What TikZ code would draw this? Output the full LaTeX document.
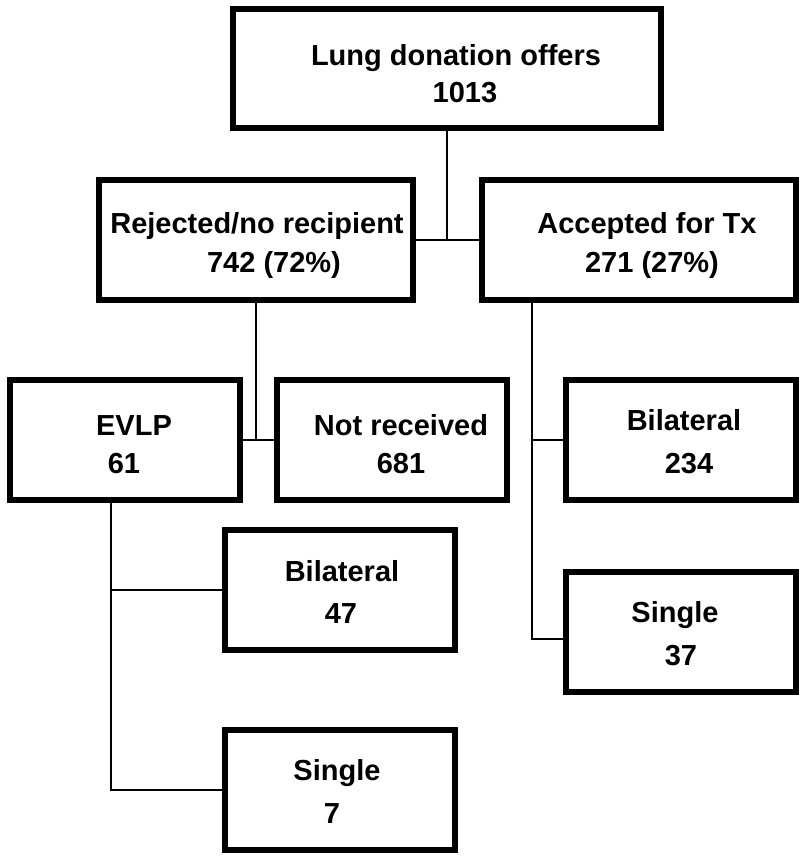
\documentclass[tikz,border=0pt]{standalone}
\usepackage{fontspec}
\setmainfont{Liberation Sans}
\tikzset{
    box/.style={draw=black, line width=3pt, inner sep=0pt, minimum height=60pt},
    topbox/.style={box, minimum width=214pt, minimum height=59.5pt},
    widebox/.style={box, minimum width=157pt},
    smallbox/.style={box, minimum width=115pt},
    txt/.style={anchor=base, inner sep=0pt, font=\bfseries\fontsize{14.5}{17}\selectfont},
    link/.style={draw=black, line width=1pt}
}
\begin{document}
\begin{tikzpicture}
  [
    x = 0.5pt,
    y = -0.5pt,
  ]
  \useasboundingbox (0,0) rectangle (800,858);
  % boxes
  \node [topbox]   (offers) at (447,68.5)  {};
  \node [widebox]  (rej)    at (255.5,240) {};
  \node [widebox]  (acc)    at (638.5,240) {};
  \node [smallbox] (evlp)   at (124.5,439.5) {};
  \node [smallbox] (notrec) at (392,439.5) {};
  \node [smallbox] (bil2)   at (680.5,439.5) {};
  \node [smallbox] (bil1)   at (340,590) {};
  \node [smallbox] (sgl2)   at (680.5,632) {};
  \node [smallbox] (sgl1)   at (340,790) {};
  % texts
  \node [txt] (offers1) at (456,65)  {Lung donation offers};
  \node [txt] (offers2) at (465,102) {1013};
  \node [txt] (rej1)    at (257,233) {Rejected/no recipient};
  \node [txt] (rej2)    at (274,272) {742 (72\%)};
  \node [txt] (acc1)    at (647,233) {Accepted for Tx};
  \node [txt] (acc2)    at (652,272) {271 (27\%)};
  \node [txt] (evlp1)   at (134,435) {EVLP};
  \node [txt] (evlp2)   at (124,473) {61};
  \node [txt] (notrec1) at (401,435) {Not received};
  \node [txt] (notrec2) at (401,473) {681};
  \node [txt] (bil21)   at (684,430) {Bilateral};
  \node [txt] (bil22)   at (689,473) {234};
  \node [txt] (bil11)   at (342,581) {Bilateral};
  \node [txt] (bil12)   at (341,623) {47};
  \node [txt] (sgl21)   at (675,622) {Single};
  \node [txt] (sgl22)   at (681,665) {37};
  \node [txt] (sgl11)   at (337,780) {Single};
  \node [txt] (sgl12)   at (332,823) {7};
  % links
  \coordinate (accdrop)  at (532,303);
  \coordinate (evlpdrop) at (111,502);
  \draw [link] (offers.south) -- (offers.south |- rej.east);
  \draw [link] (rej.east) -- (acc.west);
  \draw [link] (rej.south) -- (rej.south |- evlp.east);
  \draw [link] (evlp.east) -- (notrec.west);
  \draw [link] (accdrop) |- ([yshift=-3.5pt]sgl2.west);
  \draw [link] (accdrop |- bil2.west) -- (bil2.west);
  \draw [link] (evlpdrop) |- (sgl1.west);
  \draw [link] (evlpdrop |- bil1.west) -- (bil1.west);
\end{tikzpicture}
\end{document}
